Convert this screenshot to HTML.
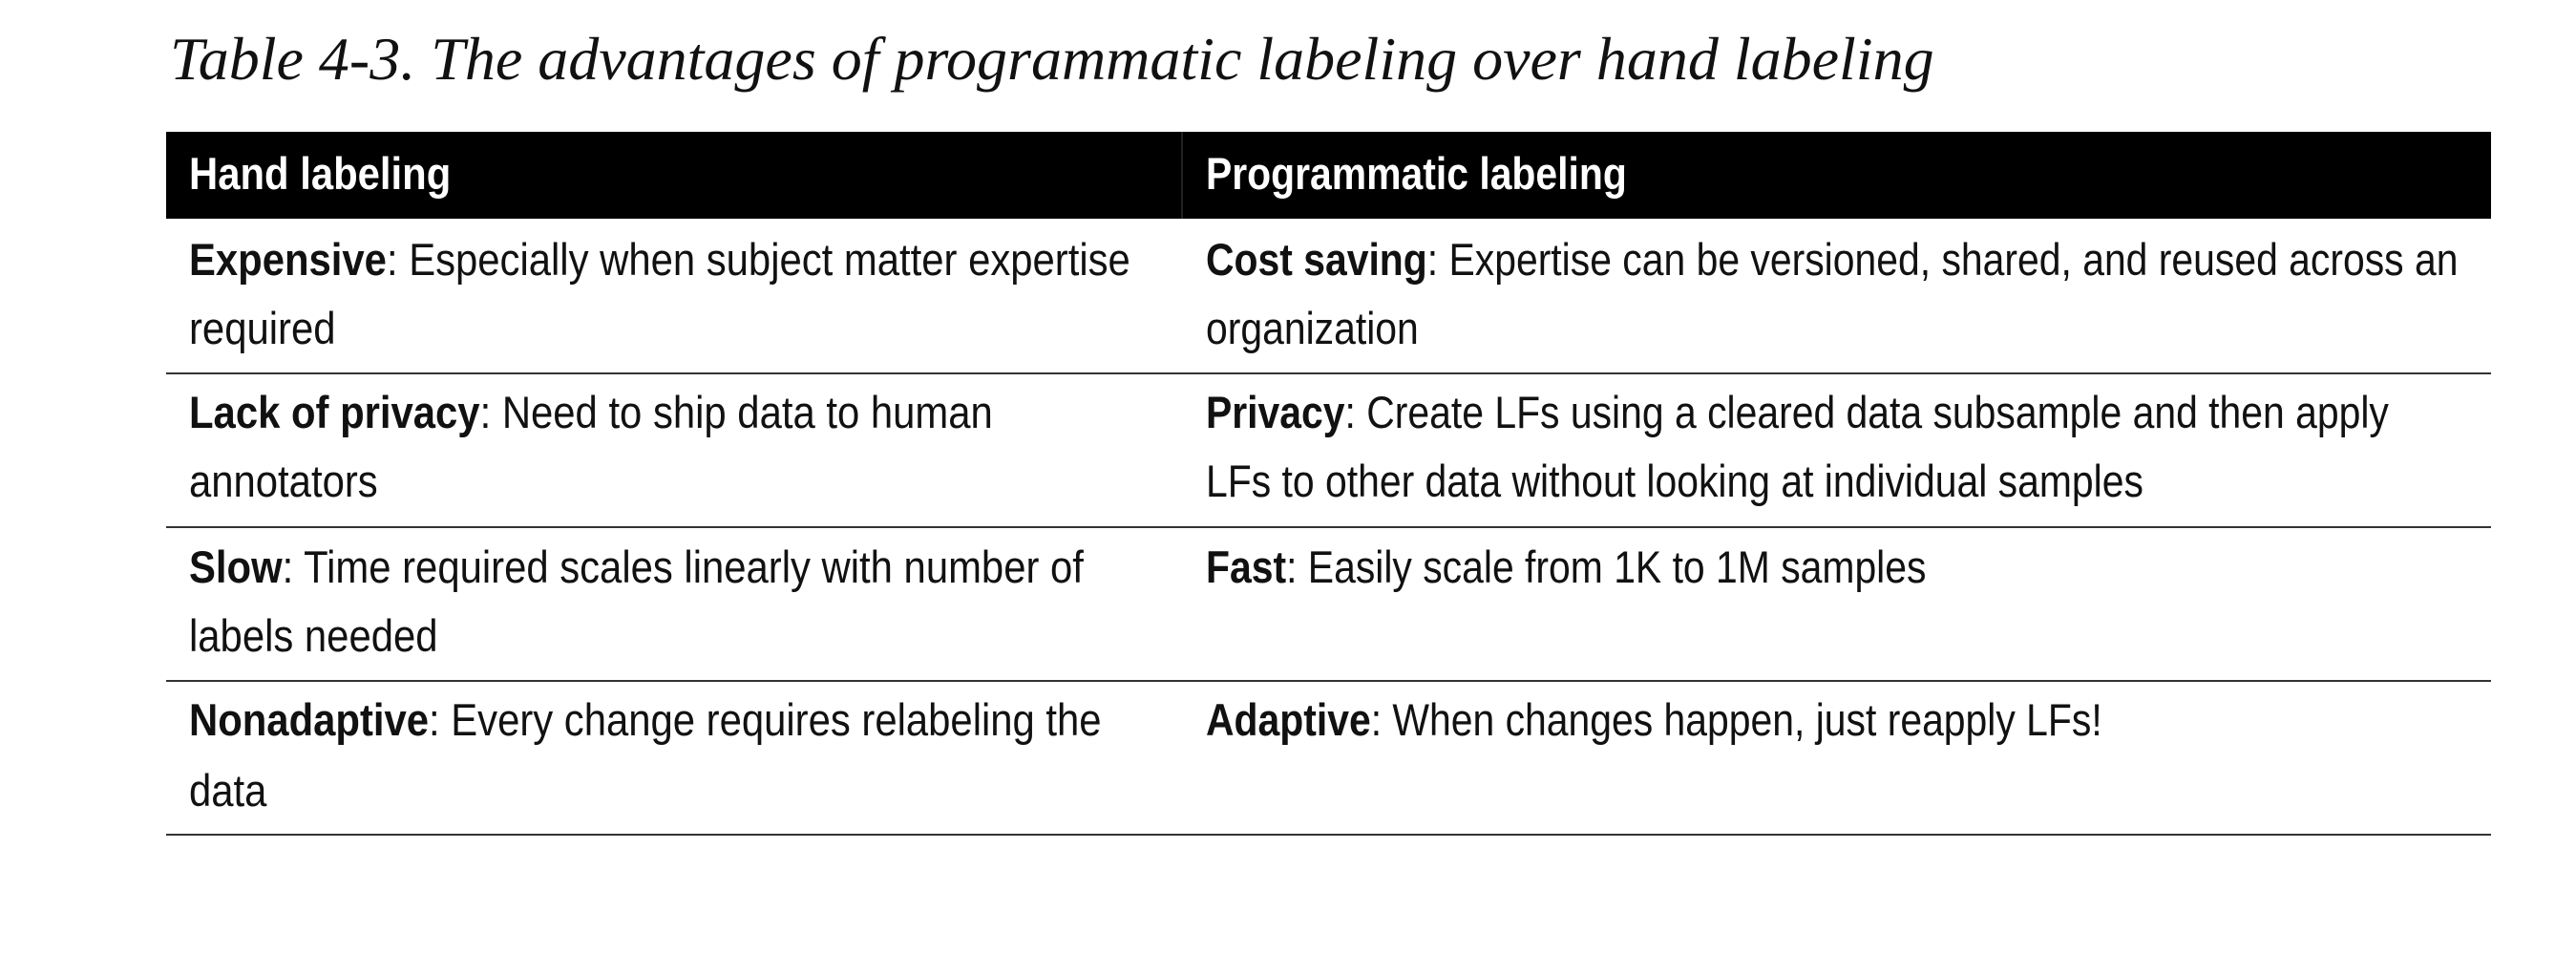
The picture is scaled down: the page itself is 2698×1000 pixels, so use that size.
<!DOCTYPE html>
<html><head><meta charset="utf-8"><style>
html,body{margin:0;padding:0;background:#fff;}
body{width:2698px;height:1000px;position:relative;overflow:hidden;}
.t{position:absolute;left:178px;top:22px;font-family:"Liberation Serif",serif;font-style:italic;font-size:64px;line-height:80px;white-space:nowrap;color:#111;}
.l{position:absolute;font-family:"Liberation Sans",sans-serif;font-size:47px;line-height:72px;height:72px;white-space:nowrap;transform:scaleX(0.89);transform-origin:left center;color:#111;}
.r{transform:scaleX(0.87);}
.h{color:#fff;font-weight:bold;}
.bar{position:absolute;left:174px;top:138px;width:2435px;height:91px;background:#000;}
.sep{position:absolute;left:1237px;top:138px;width:2px;height:91px;background:#222;}
.rule{position:absolute;left:174px;width:2435px;height:2px;background:#333;}
b{font-weight:bold;}
</style></head><body>
<div class="t">Table 4-3. The advantages of programmatic labeling over hand labeling</div>
<div class="bar"></div><div class="sep"></div>
<div class="l h" style="left:198px;top:146px">Hand labeling</div>
<div class="l h r" style="left:1263px;top:146px">Programmatic labeling</div>

<div class="l" style="left:198px;top:236px"><b>Expensive</b>: Especially when subject matter expertise</div>
<div class="l" style="left:198px;top:308px">required</div>
<div class="l r" style="left:1263px;top:236px"><b>Cost saving</b>: Expertise can be versioned, shared, and reused across an</div>
<div class="l r" style="left:1263px;top:308px">organization</div>
<div class="rule" style="top:390px"></div>

<div class="l" style="left:198px;top:396px"><b>Lack of privacy</b>: Need to ship data to human</div>
<div class="l" style="left:198px;top:468px">annotators</div>
<div class="l r" style="left:1263px;top:396px"><b>Privacy</b>: Create LFs using a cleared data subsample and then apply</div>
<div class="l r" style="left:1263px;top:468px">LFs to other data without looking at individual samples</div>
<div class="rule" style="top:551px"></div>

<div class="l" style="left:198px;top:558px"><b>Slow</b>: Time required scales linearly with number of</div>
<div class="l" style="left:198px;top:630px">labels needed</div>
<div class="l r" style="left:1263px;top:558px"><b>Fast</b>: Easily scale from 1K to 1M samples</div>
<div class="rule" style="top:712px"></div>

<div class="l" style="left:198px;top:718px"><b>Nonadaptive</b>: Every change requires relabeling the</div>
<div class="l" style="left:198px;top:792px">data</div>
<div class="l r" style="left:1263px;top:718px"><b>Adaptive</b>: When changes happen, just reapply LFs!</div>
<div class="rule" style="top:873px"></div>
</body></html>
